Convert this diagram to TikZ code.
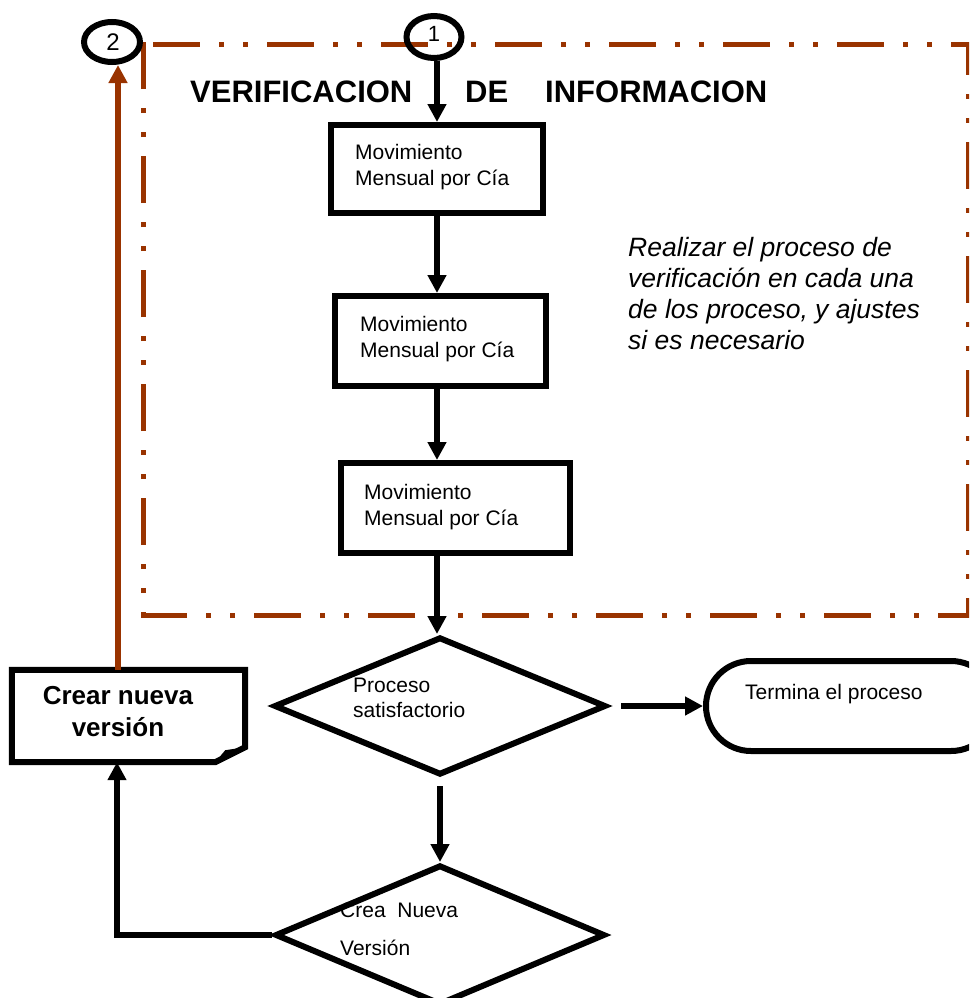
\documentclass[tikz,border=0pt]{standalone}
\usepackage{fontspec}
\setmainfont{Liberation Sans}
\usetikzlibrary{arrows.meta,shapes.geometric,calc}
\definecolor{rust}{RGB}{153,51,0}
\begin{document}
\begin{tikzpicture}[x=1pt,y=-1pt,
  procbox/.style={draw,line width=6pt,inner sep=0pt},
  txt/.style={font=\fontsize{21}{26}\selectfont,align=left,inner sep=0pt},
  arr/.style={line width=5.5pt,-{Triangle[width=18pt,length=18pt]}},
  rustarr/.style={draw=rust,line width=5.5pt,-{Triangle[width=18pt,length=18pt]}},
  frame/.style={draw=rust,line width=5pt,dash pattern=on 47pt off 19pt on 5pt off 19pt on 5pt off 19pt},
  decision/.style={draw,shape=diamond,line width=6pt,inner sep=0pt},
  conn/.style={draw,ellipse,line width=6pt,inner sep=0pt},
  title/.style={font=\bfseries\fontsize{31}{36}\selectfont,inner sep=0pt,anchor=base west}]
\useasboundingbox (0,0) rectangle (969,998);
\clip (0,0) rectangle (969,998);

% dashed frame
\draw[frame] (153,45) -- (968,45) -- (968,615) -- (143,615) -- (143,45) -- (153,45);

% title
\node[title] (tv) at (190,102) {VERIFICACION};
\node[title] (td) at (465,102) {DE};
\node[title] (ti) at (545,102) {INFORMACION};

% connectors (circles)
\node[conn,minimum width=56pt,minimum height=40pt] (c2) at (112,42) {};
\node[inner sep=0pt,font=\fontsize{24}{28}\selectfont] (c2t) at (113,42) {2};
\node[conn,minimum width=55pt,minimum height=42pt] (c1) at (434,37) {};
\node[inner sep=0pt,font=\fontsize{22}{26}\selectfont] (c1t) at (434,34) {1};

% process boxes
\node[procbox,minimum width=212pt,minimum height=88pt] (b1) at (437,169) {};
\node[txt,anchor=base west] (t1) at (355,185) {Movimiento\\Mensual por Cía};
\node[procbox,minimum width=211pt,minimum height=90pt] (b2) at (440.5,341) {};
\node[txt,anchor=base west] (t2) at (360,357) {Movimiento\\Mensual por Cía};
\node[procbox,minimum width=229pt,minimum height=90pt] (b3) at (455.5,508) {};
\node[txt,anchor=base west] (t3) at (364,525) {Movimiento\\Mensual por Cía};

% italic note
\node[inner sep=0pt,anchor=base west,align=left,font=\itshape\fontsize{26.5}{31}\selectfont] (note) at (628,349)
  {Realizar el proceso de\\verificación en cada una\\de los proceso, y ajustes\\si es necesario};

% decisions
\node[decision,minimum width=332pt,minimum height=138pt] (d1) at (440,706) {};
\node[txt,anchor=base west,font=\fontsize{21}{25}\selectfont] (d1t) at (353,717) {Proceso\\satisfactorio};
\node[decision,minimum width=330pt,minimum height=140pt] (d2) at (440,935) {};
\node[txt,anchor=base west,font=\fontsize{21}{38}\selectfont] (d2t) at (340,955) {Crea~ Nueva\\Versión};

% terminator
\node[draw,line width=6pt,rounded corners=45pt,minimum width=290pt,minimum height=90pt,inner sep=0pt] (term) at (851,706) {};
\node[txt,anchor=base west] (termt) at (745,699) {Termina el proceso};

% document box
\node[inner sep=0pt,minimum width=233pt,minimum height=92pt] (crear) at (128.5,716) {};
\draw[line width=6pt,line join=miter]
  (crear.north west) -- (crear.north east) -- ($(crear.south east)+(0,-15)$)
  -- ($(crear.south east)+(-30,0)$) -- (crear.south west) -- cycle;
\fill ($(crear.south east)+(-30,0)$) -- ($(crear.south east)+(-20,-12)$) -- ($(crear.south east)+(0,-15)$) -- cycle;
\node[inner sep=0pt,align=center,anchor=base,font=\bfseries\fontsize{26}{32}\selectfont] (crt) at (118,736) {Crear nueva\\versión};

% arrows
\draw[arr] (b1.north |- c1.south) -- (b1.north);
\draw[arr] (b1.south) -- (b1.south |- b2.north);
\draw[arr] (b1.south |- b2.south) -- (b1.south |- b3.north);
\draw[arr] (b1.south |- b3.south) -- (b1.south |- d1.north);
\draw[arr,shorten <=12pt] (d1.east) -- (term.west);
\draw[arr,shorten <=8pt] (d1.south) -- (d2.north);
\coordinate (k2) at (117,935);
\draw[arr] (d2.west) -- (k2) -- (k2 |- crear.south);
\coordinate (k1) at (118,670);
\draw[rustarr] (k1) -- (k1 |- c2.south);
\end{tikzpicture}
\end{document}
